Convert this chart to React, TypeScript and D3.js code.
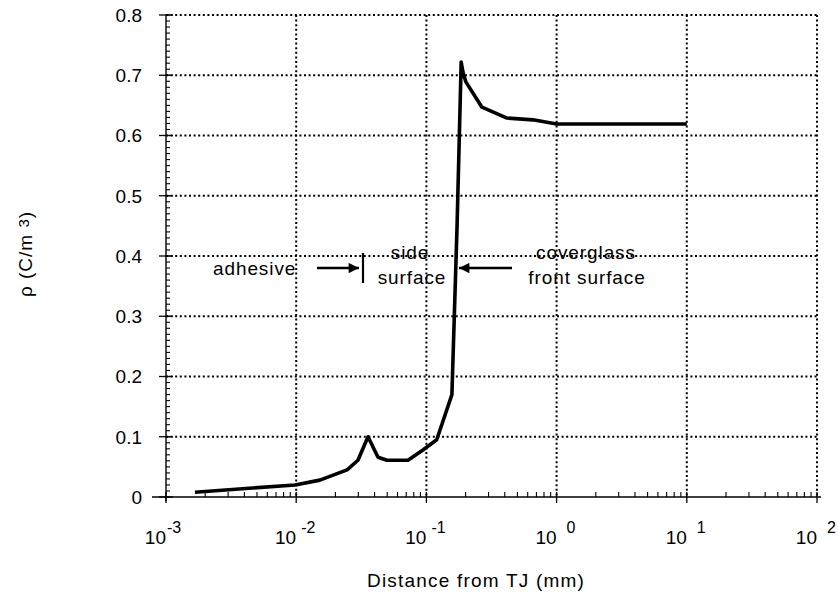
import * as d3 from "d3"

// distance from TJ (mm) and charge density (C/m^3)
const distance = [
    0.00167, 0.0098, 0.0152, 0.0246, 0.0298, 0.0356, 0.0425, 0.0498, 0.0722, 0.094,
    0.12, 0.157, 0.172, 0.185, 0.191, 0.201, 0.267, 0.416, 0.659, 1.0, 10,
]
const rho = [
    0.008, 0.02, 0.028, 0.045, 0.061, 0.1, 0.066, 0.061, 0.061, 0.078,
    0.095, 0.17, 0.45, 0.722, 0.705, 0.689, 0.647, 0.629, 0.626, 0.619, 0.619,
]
const xExponents = [-3, -2, -1, 0, 1, 2]
const yTicks = [0, 0.1, 0.2, 0.3, 0.4, 0.5, 0.6, 0.7, 0.8]

const width = 838
const height = 597
const margin = { top: 15, right: 21, bottom: 100, left: 166 }
const font = "'Liberation Sans', Arial, sans-serif"

export default function App() {
    const x = d3.scaleLog()
        .domain([1e-3, 1e2])
        .range([margin.left, width - margin.right])
    const y = d3.scaleLinear()
        .domain([0, 0.8])
        .range([height - margin.bottom, margin.top])

    const line = d3.line<number>()
        .x((_, i) => x(distance[i]))
        .y(d => y(d))

    const x0 = x(1e-3), x1 = x(1e2), y0 = y(0), y1 = y(0.8)

    // minor log ticks 2..9 per decade
    const minorX: number[] = []
    for (let e = -3; e < 2; e++) {
        for (let k = 2; k <= 9; k++) minorX.push(k * Math.pow(10, e))
    }
    const minorY = d3.range(0, 81).map(i => i / 100)

    const dot = { stroke: "#000", strokeWidth: 2, strokeDasharray: "2,2.6", fill: "none" }
    const ay = y(0.38)
    const ann = { fontSize: 19, letterSpacing: 0.9 }

    return (
        <svg width={width} height={height} viewBox={`0 0 ${width} ${height}`}
            style={{ display: "block", position: "absolute", left: 0, top: 0, background: "#fff" }}
            fontFamily={font}>
            <defs>
                <marker id="ah" viewBox="0 0 10 10" refX="10" refY="5" markerWidth="5.5" markerHeight="4"
                    orient="auto" markerUnits="strokeWidth">
                    <path d="M0,0 L10,5 L0,10 z" fill="#000" />
                </marker>
            </defs>

            {/* gridlines */}
            {xExponents.slice(1).map(e => (
                <line key={"gx" + e} x1={x(Math.pow(10, e))} x2={x(Math.pow(10, e))} y1={y1} y2={y0} {...dot} />
            ))}
            {yTicks.slice(1).map(t => (
                <line key={"gy" + t} x1={x0} x2={x1} y1={y(t)} y2={y(t)} {...dot} />
            ))}

            {/* axes */}
            <line x1={x0 - 14} x2={x1 + 4} y1={y0} y2={y0} stroke="#000" strokeWidth={1.4} />
            <line x1={x0} x2={x0} y1={y1} y2={y0 + 4} stroke="#000" strokeWidth={1.4} />
            {minorX.map((v, i) => (
                <line key={"mx" + i} x1={x(v)} x2={x(v)} y1={y0} y2={y0 - 5} stroke="#000" strokeWidth={1.1} />
            ))}
            {xExponents.map(e => (
                <line key={"tx" + e} x1={x(Math.pow(10, e))} x2={x(Math.pow(10, e))} y1={y0 - 5} y2={y0 + 6}
                    stroke="#000" strokeWidth={1.3} />
            ))}
            {minorY.map((v, i) => (
                <line key={"my" + i} x1={x0} x2={x0 + 4} y1={y(v)} y2={y(v)} stroke="#000" strokeWidth={1.1} />
            ))}
            {yTicks.map(t => (
                <line key={"ty" + t} x1={x0 - 7} x2={x0 + 7} y1={y(t)} y2={y(t)} stroke="#000" strokeWidth={1.3} />
            ))}

            {/* tick labels */}
            {yTicks.map(t => (
                <text key={"ly" + t} x={x0 - 24} y={y(t)} dy="0.36em" textAnchor="end" fontSize={19}>
                    {t === 0 ? "0" : d3.format(".1f")(t)}
                </text>
            ))}
            {xExponents.map(e => {
                const gx = x(Math.pow(10, e))
                const off = e === -3 ? 1 : e < 0 ? 5 : 10
                return (
                    <g key={"lx" + e}>
                        <text x={gx} y={y0 + 47} textAnchor="end" fontSize={19}>10</text>
                        <text x={gx + off} y={y0 + 36} fontSize={16}>{e}</text>
                    </g>
                )
            })}

            {/* axis titles */}
            <text x={476} y={587} textAnchor="middle" fontSize={19} letterSpacing={1.2}>Distance from TJ (mm)</text>
            <text transform={`translate(32,${(y0 + y1) / 2 - 2}) rotate(-90)`} textAnchor="middle" fontSize={19}
                letterSpacing={1}>
                ρ (C/m <tspan fontSize={15} dy={-3}>3</tspan><tspan dy={3}>)</tspan>
            </text>

            {/* data */}
            <path d={line(rho) ?? ""} fill="none" stroke="#000" strokeWidth={3.6} strokeLinejoin="round" />

            {/* annotations */}
            <text x={213} y={ay} dy="0.35em" {...ann}>adhesive</text>
            <line x1={317} x2={359} y1={ay} y2={ay} stroke="#000" strokeWidth={2.6} markerEnd="url(#ah)" />
            <line x1={363} x2={363} y1={ay - 15} y2={ay + 15} stroke="#000" strokeWidth={2.2} />
            <text x={410} y={ay - 16} dy="0.35em" textAnchor="middle" {...ann}>side</text>
            <text x={412} y={ay + 9} dy="0.35em" textAnchor="middle" {...ann}>surface</text>
            <line x1={512} x2={459} y1={ay} y2={ay} stroke="#000" strokeWidth={2.6} markerEnd="url(#ah)" />
            <text x={586} y={ay - 16} dy="0.35em" textAnchor="middle" {...ann}>coverglass</text>
            <text x={587} y={ay + 9} dy="0.35em" textAnchor="middle" {...ann}>front surface</text>
        </svg>
    )
}
